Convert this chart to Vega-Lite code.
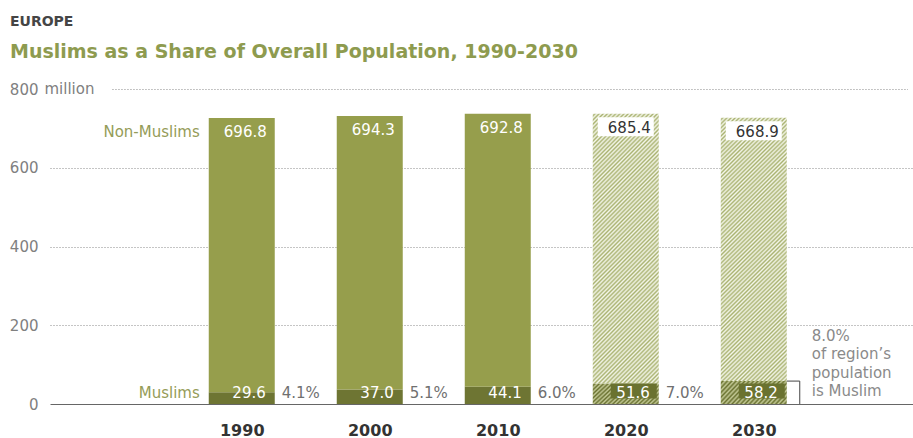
{
  "$schema": "https://vega.github.io/schema/vega-lite/v6.json",
  "width": 863,
  "height": 315,
  "autosize": {"type": "none"},
  "padding": {"left": 50, "top": 89, "right": 0, "bottom": 34},
  "background": "white",
  "config": {"view": {"stroke": null}, "font": "DejaVu Sans", "text": {"font": "DejaVu Sans"}},
  "title": {
    "text": "EUROPE",
    "subtitle": "Muslims as a Share of Overall Population, 1990-2030",
    "anchor": "start",
    "frame": "group",
    "dx": -40,
    "offset": 20,
    "font": "DejaVu Sans",
    "fontSize": 14,
    "fontWeight": "bold",
    "color": "#454545",
    "subtitleFont": "DejaVu Sans",
    "subtitleFontSize": 19,
    "subtitleFontWeight": "bold",
    "subtitleColor": "#8e9b4f",
    "subtitlePadding": 14
  },
  "layer": [
    {
      "data": {"values": [
        {"year": 1990, "group": "Muslims", "value": 29.6, "pct": "4.1%"},
        {"year": 1990, "group": "Non-Muslims", "value": 696.8},
        {"year": 2000, "group": "Muslims", "value": 37.0, "pct": "5.1%"},
        {"year": 2000, "group": "Non-Muslims", "value": 694.3},
        {"year": 2010, "group": "Muslims", "value": 44.1, "pct": "6.0%"},
        {"year": 2010, "group": "Non-Muslims", "value": 692.8},
        {"year": 2020, "group": "Muslims", "value": 51.6, "pct": "7.0%"},
        {"year": 2020, "group": "Non-Muslims", "value": 685.4},
        {"year": 2030, "group": "Muslims", "value": 58.2, "pct": "8.0%"},
        {"year": 2030, "group": "Non-Muslims", "value": 668.9}
      ]},
      "transform": [
        {"stack": "value", "groupby": ["year"], "sort": [{"field": "group", "order": "ascending"}], "as": ["y0", "y1"]}
      ],
      "layer": [
        {
          "transform": [{"filter": "datum.year <= 2010"}],
          "mark": {"type": "bar", "width": 66},
          "encoding": {
            "x": {
              "field": "year", "type": "quantitative", "title": null,
              "scale": {"domain": [1975.41, 2042.05], "nice": false, "zero": false},
              "axis": {
                "values": [1990, 2000, 2010, 2020, 2030], "format": "d",
                "ticks": false, "tickSize": 0, "grid": false,
                "domain": true, "domainColor": "#666666", "domainWidth": 1,
                "labelFont": "DejaVu Sans", "labelFontWeight": "bold", "labelFontSize": 16,
                "labelColor": "#333333", "labelPadding": 31, "labelBaseline": "alphabetic",
                "labelFlush": false, "labelOverlap": false, "title": null
              }
            },
            "y": {
              "field": "y0", "type": "quantitative", "title": null,
              "scale": {"domain": [0, 800], "nice": false},
              "axis": {
                "values": [0, 200, 400, 600, 800],
                "ticks": false, "tickSize": 0, "domain": false,
                "grid": true, "gridDash": [1, 2], "gridColor": "#8a8a8a", "gridWidth": 1,
                "gridOpacity": {"condition": {"test": "datum.value == 800 || datum.value == 0", "value": 0}, "value": 1},
                "labelAlign": "right", "labelPadding": 12, "labelFontSize": 15,
                "labelFont": "DejaVu Sans", "labelColor": "#808080", "labelBaseline": "middle",
                "labelFlush": false, "labelOverlap": false,
                "title": null
              }
            },
            "y2": {"field": "y1"},
            "color": {
              "field": "group", "type": "nominal", "legend": null,
              "scale": {"domain": ["Muslims", "Non-Muslims"], "range": ["#6e7533", "#969e4c"]}
            }
          }
        },
        {
          "transform": [{"filter": "datum.year >= 2020 && datum.group == 'Non-Muslims'"}],
          "mark": {
            "type": "bar", "width": 66,
            "fill": {"gradient": "linear", "x1": 0, "y1": 0, "x2": 0.2906, "y2": 1.1755, "stops": [
              {"offset":0,"color":"#f4f6e9"},{"offset":0.00625,"color":"#aab372"},{"offset":0.0125,"color":"#f4f6e9"},{"offset":0.01875,"color":"#aab372"},{"offset":0.025,"color":"#f4f6e9"},{"offset":0.03125,"color":"#aab372"},{"offset":0.0375,"color":"#f4f6e9"},{"offset":0.04375,"color":"#aab372"},
              {"offset":0.05,"color":"#f4f6e9"},{"offset":0.05625,"color":"#aab372"},{"offset":0.0625,"color":"#f4f6e9"},{"offset":0.06875,"color":"#aab372"},{"offset":0.075,"color":"#f4f6e9"},{"offset":0.08125,"color":"#aab372"},{"offset":0.0875,"color":"#f4f6e9"},{"offset":0.09375,"color":"#aab372"},
              {"offset":0.1,"color":"#f4f6e9"},{"offset":0.10625,"color":"#aab372"},{"offset":0.1125,"color":"#f4f6e9"},{"offset":0.11875,"color":"#aab372"},{"offset":0.125,"color":"#f4f6e9"},{"offset":0.13125,"color":"#aab372"},{"offset":0.1375,"color":"#f4f6e9"},{"offset":0.14375,"color":"#aab372"},
              {"offset":0.15,"color":"#f4f6e9"},{"offset":0.15625,"color":"#aab372"},{"offset":0.1625,"color":"#f4f6e9"},{"offset":0.16875,"color":"#aab372"},{"offset":0.175,"color":"#f4f6e9"},{"offset":0.18125,"color":"#aab372"},{"offset":0.1875,"color":"#f4f6e9"},{"offset":0.19375,"color":"#aab372"},
              {"offset":0.2,"color":"#f4f6e9"},{"offset":0.20625,"color":"#aab372"},{"offset":0.2125,"color":"#f4f6e9"},{"offset":0.21875,"color":"#aab372"},{"offset":0.225,"color":"#f4f6e9"},{"offset":0.23125,"color":"#aab372"},{"offset":0.2375,"color":"#f4f6e9"},{"offset":0.24375,"color":"#aab372"},
              {"offset":0.25,"color":"#f4f6e9"},{"offset":0.25625,"color":"#aab372"},{"offset":0.2625,"color":"#f4f6e9"},{"offset":0.26875,"color":"#aab372"},{"offset":0.275,"color":"#f4f6e9"},{"offset":0.28125,"color":"#aab372"},{"offset":0.2875,"color":"#f4f6e9"},{"offset":0.29375,"color":"#aab372"},
              {"offset":0.3,"color":"#f4f6e9"},{"offset":0.30625,"color":"#aab372"},{"offset":0.3125,"color":"#f4f6e9"},{"offset":0.31875,"color":"#aab372"},{"offset":0.325,"color":"#f4f6e9"},{"offset":0.33125,"color":"#aab372"},{"offset":0.3375,"color":"#f4f6e9"},{"offset":0.34375,"color":"#aab372"},
              {"offset":0.35,"color":"#f4f6e9"},{"offset":0.35625,"color":"#aab372"},{"offset":0.3625,"color":"#f4f6e9"},{"offset":0.36875,"color":"#aab372"},{"offset":0.375,"color":"#f4f6e9"},{"offset":0.38125,"color":"#aab372"},{"offset":0.3875,"color":"#f4f6e9"},{"offset":0.39375,"color":"#aab372"},
              {"offset":0.4,"color":"#f4f6e9"},{"offset":0.40625,"color":"#aab372"},{"offset":0.4125,"color":"#f4f6e9"},{"offset":0.41875,"color":"#aab372"},{"offset":0.425,"color":"#f4f6e9"},{"offset":0.43125,"color":"#aab372"},{"offset":0.4375,"color":"#f4f6e9"},{"offset":0.44375,"color":"#aab372"},
              {"offset":0.45,"color":"#f4f6e9"},{"offset":0.45625,"color":"#aab372"},{"offset":0.4625,"color":"#f4f6e9"},{"offset":0.46875,"color":"#aab372"},{"offset":0.475,"color":"#f4f6e9"},{"offset":0.48125,"color":"#aab372"},{"offset":0.4875,"color":"#f4f6e9"},{"offset":0.49375,"color":"#aab372"},
              {"offset":0.5,"color":"#f4f6e9"},{"offset":0.50625,"color":"#aab372"},{"offset":0.5125,"color":"#f4f6e9"},{"offset":0.51875,"color":"#aab372"},{"offset":0.525,"color":"#f4f6e9"},{"offset":0.53125,"color":"#aab372"},{"offset":0.5375,"color":"#f4f6e9"},{"offset":0.54375,"color":"#aab372"},
              {"offset":0.55,"color":"#f4f6e9"},{"offset":0.55625,"color":"#aab372"},{"offset":0.5625,"color":"#f4f6e9"},{"offset":0.56875,"color":"#aab372"},{"offset":0.575,"color":"#f4f6e9"},{"offset":0.58125,"color":"#aab372"},{"offset":0.5875,"color":"#f4f6e9"},{"offset":0.59375,"color":"#aab372"},
              {"offset":0.6,"color":"#f4f6e9"},{"offset":0.60625,"color":"#aab372"},{"offset":0.6125,"color":"#f4f6e9"},{"offset":0.61875,"color":"#aab372"},{"offset":0.625,"color":"#f4f6e9"},{"offset":0.63125,"color":"#aab372"},{"offset":0.6375,"color":"#f4f6e9"},{"offset":0.64375,"color":"#aab372"},
              {"offset":0.65,"color":"#f4f6e9"},{"offset":0.65625,"color":"#aab372"},{"offset":0.6625,"color":"#f4f6e9"},{"offset":0.66875,"color":"#aab372"},{"offset":0.675,"color":"#f4f6e9"},{"offset":0.68125,"color":"#aab372"},{"offset":0.6875,"color":"#f4f6e9"},{"offset":0.69375,"color":"#aab372"},
              {"offset":0.7,"color":"#f4f6e9"},{"offset":0.70625,"color":"#aab372"},{"offset":0.7125,"color":"#f4f6e9"},{"offset":0.71875,"color":"#aab372"},{"offset":0.725,"color":"#f4f6e9"},{"offset":0.73125,"color":"#aab372"},{"offset":0.7375,"color":"#f4f6e9"},{"offset":0.74375,"color":"#aab372"},
              {"offset":0.75,"color":"#f4f6e9"},{"offset":0.75625,"color":"#aab372"},{"offset":0.7625,"color":"#f4f6e9"},{"offset":0.76875,"color":"#aab372"},{"offset":0.775,"color":"#f4f6e9"},{"offset":0.78125,"color":"#aab372"},{"offset":0.7875,"color":"#f4f6e9"},{"offset":0.79375,"color":"#aab372"},
              {"offset":0.8,"color":"#f4f6e9"},{"offset":0.80625,"color":"#aab372"},{"offset":0.8125,"color":"#f4f6e9"},{"offset":0.81875,"color":"#aab372"},{"offset":0.825,"color":"#f4f6e9"},{"offset":0.83125,"color":"#aab372"},{"offset":0.8375,"color":"#f4f6e9"},{"offset":0.84375,"color":"#aab372"},
              {"offset":0.85,"color":"#f4f6e9"},{"offset":0.85625,"color":"#aab372"},{"offset":0.8625,"color":"#f4f6e9"},{"offset":0.86875,"color":"#aab372"},{"offset":0.875,"color":"#f4f6e9"},{"offset":0.88125,"color":"#aab372"},{"offset":0.8875,"color":"#f4f6e9"},{"offset":0.89375,"color":"#aab372"},
              {"offset":0.9,"color":"#f4f6e9"},{"offset":0.90625,"color":"#aab372"},{"offset":0.9125,"color":"#f4f6e9"},{"offset":0.91875,"color":"#aab372"},{"offset":0.925,"color":"#f4f6e9"},{"offset":0.93125,"color":"#aab372"},{"offset":0.9375,"color":"#f4f6e9"},{"offset":0.94375,"color":"#aab372"},
              {"offset":0.95,"color":"#f4f6e9"},{"offset":0.95625,"color":"#aab372"},{"offset":0.9625,"color":"#f4f6e9"},{"offset":0.96875,"color":"#aab372"},{"offset":0.975,"color":"#f4f6e9"},{"offset":0.98125,"color":"#aab372"},{"offset":0.9875,"color":"#f4f6e9"},{"offset":0.99375,"color":"#aab372"},
              {"offset":1,"color":"#f4f6e9"}
            ]}
          },
          "encoding": {
            "x": {"field": "year", "type": "quantitative"},
            "y": {"field": "y0", "type": "quantitative"},
            "y2": {"field": "y1"}
          }
        },
        {
          "transform": [{"filter": "datum.year >= 2020 && datum.group == 'Muslims'"}],
          "mark": {
            "type": "bar", "width": 66,
            "fill": {"gradient": "linear", "x1": 0, "y1": 0, "x2": 1.199, "y2": 0.392, "stops": [
              {"offset":0,"color":"#c3c996"},{"offset":0.025,"color":"#6a7230"},{"offset":0.05,"color":"#c3c996"},{"offset":0.075,"color":"#6a7230"},{"offset":0.1,"color":"#c3c996"},{"offset":0.125,"color":"#6a7230"},{"offset":0.15,"color":"#c3c996"},{"offset":0.175,"color":"#6a7230"},
              {"offset":0.2,"color":"#c3c996"},{"offset":0.225,"color":"#6a7230"},{"offset":0.25,"color":"#c3c996"},{"offset":0.275,"color":"#6a7230"},{"offset":0.3,"color":"#c3c996"},{"offset":0.325,"color":"#6a7230"},{"offset":0.35,"color":"#c3c996"},{"offset":0.375,"color":"#6a7230"},
              {"offset":0.4,"color":"#c3c996"},{"offset":0.425,"color":"#6a7230"},{"offset":0.45,"color":"#c3c996"},{"offset":0.475,"color":"#6a7230"},{"offset":0.5,"color":"#c3c996"},{"offset":0.525,"color":"#6a7230"},{"offset":0.55,"color":"#c3c996"},{"offset":0.575,"color":"#6a7230"},
              {"offset":0.6,"color":"#c3c996"},{"offset":0.625,"color":"#6a7230"},{"offset":0.65,"color":"#c3c996"},{"offset":0.675,"color":"#6a7230"},{"offset":0.7,"color":"#c3c996"},{"offset":0.725,"color":"#6a7230"},{"offset":0.75,"color":"#c3c996"},{"offset":0.775,"color":"#6a7230"},
              {"offset":0.8,"color":"#c3c996"},{"offset":0.825,"color":"#6a7230"},{"offset":0.85,"color":"#c3c996"},{"offset":0.875,"color":"#6a7230"},{"offset":0.9,"color":"#c3c996"},{"offset":0.925,"color":"#6a7230"},{"offset":0.95,"color":"#c3c996"},{"offset":0.975,"color":"#6a7230"},
              {"offset":1,"color":"#c3c996"}
            ]}
          },
          "encoding": {
            "x": {"field": "year", "type": "quantitative"},
            "y": {"field": "y0", "type": "quantitative"},
            "y2": {"field": "y1"}
          }
        },
        {
          "transform": [{"filter": "datum.year >= 2020 && datum.group == 'Non-Muslims'"}],
          "mark": {"type": "point", "shape": "M-1,-0.34H1V0.34H-1Z", "size": 3136, "filled": true, "fill": "#ffffff", "opacity": 1, "strokeWidth": 0, "yOffset": 13},
          "encoding": {
            "x": {"field": "year", "type": "quantitative"},
            "y": {"field": "y1", "type": "quantitative"}
          }
        },
        {
          "transform": [{"filter": "datum.year >= 2020 && datum.group == 'Muslims'"}],
          "mark": {"type": "point", "shape": "M-1,-0.33H1V0.33H-1Z", "size": 2116, "filled": true, "fill": "#6a7230", "opacity": 1, "strokeWidth": 0, "xOffset": 8, "yOffset": -13},
          "encoding": {
            "x": {"field": "year", "type": "quantitative"},
            "y": {"field": "y0", "type": "quantitative"}
          }
        },
        {
          "transform": [{"filter": "datum.group == 'Non-Muslims'"}],
          "mark": {"type": "text", "align": "right", "baseline": "alphabetic", "dx": 25, "dy": 19, "fontSize": 15},
          "encoding": {
            "x": {"field": "year", "type": "quantitative"},
            "y": {"field": "y1", "type": "quantitative"},
            "text": {"field": "value", "type": "quantitative", "format": ".1f"},
            "color": {"condition": {"test": "datum.year >= 2020", "value": "#333333"}, "value": "#ffffff"}
          }
        },
        {
          "transform": [{"filter": "datum.group == 'Muslims'"}],
          "mark": {"type": "text", "align": "right", "baseline": "alphabetic", "dx": 24, "dy": -6, "fontSize": 15, "color": "#ffffff"},
          "encoding": {
            "x": {"field": "year", "type": "quantitative"},
            "y": {"field": "y0", "type": "quantitative"},
            "text": {"field": "value", "type": "quantitative", "format": ".1f"}
          }
        },
        {
          "transform": [{"filter": "datum.group == 'Muslims' && datum.year <= 2020"}],
          "mark": {"type": "text", "align": "left", "baseline": "alphabetic", "dx": 40, "dy": -6, "fontSize": 15, "color": "#707070"},
          "encoding": {
            "x": {"field": "year", "type": "quantitative"},
            "y": {"field": "y0", "type": "quantitative"},
            "text": {"field": "pct", "type": "nominal"}
          }
        },
        {
          "transform": [{"filter": "datum.year == 1990 && datum.group == 'Non-Muslims'"}],
          "mark": {"type": "text", "align": "right", "baseline": "alphabetic", "dx": -42, "dy": 19, "fontSize": 15, "color": "#959c58"},
          "encoding": {
            "x": {"field": "year", "type": "quantitative"},
            "y": {"field": "y1", "type": "quantitative"},
            "text": {"field": "group", "type": "nominal"}
          }
        },
        {
          "transform": [{"filter": "datum.year == 1990 && datum.group == 'Muslims'"}],
          "mark": {"type": "text", "align": "right", "baseline": "alphabetic", "dx": -42, "dy": -6, "fontSize": 15, "color": "#959c58"},
          "encoding": {
            "x": {"field": "year", "type": "quantitative"},
            "y": {"field": "y0", "type": "quantitative"},
            "text": {"field": "group", "type": "nominal"}
          }
        },
        {
          "transform": [{"filter": "datum.year == 2030 && datum.group == 'Muslims'"}],
          "mark": {"type": "rule", "color": "#444444", "strokeWidth": 1, "xOffset": 33, "x2Offset": 46},
          "encoding": {
            "x": {"field": "year", "type": "quantitative"},
            "x2": {"field": "year"},
            "y": {"field": "y1", "type": "quantitative"}
          }
        },
        {
          "transform": [{"filter": "datum.year == 2030 && datum.group == 'Muslims'"}],
          "mark": {"type": "rule", "color": "#444444", "strokeWidth": 1, "xOffset": 46},
          "encoding": {
            "x": {"field": "year", "type": "quantitative"},
            "y": {"field": "y1", "type": "quantitative"},
            "y2": {"field": "y0"}
          }
        }
      ]
    },
    {
      "data": {"values": [{"year": 2030, "note": "8.0%\nof region’s\npopulation\nis Muslim"}]},
      "mark": {"type": "text", "align": "left", "baseline": "alphabetic", "dx": 58, "dy": -63, "fontSize": 15, "lineBreak": "\n", "lineHeight": 18.3, "color": "#8a8a8a"},
      "encoding": {
        "x": {"field": "year", "type": "quantitative"},
        "y": {"datum": 0},
        "text": {"field": "note", "type": "nominal"}
      }
    },
    {
      "data": {"values": [{"level": 800, "start": 1979.9, "end": 2042.05, "unit": "million"}]},
      "layer": [
        {
          "mark": {"type": "rule", "color": "#8a8a8a", "strokeDash": [1, 2], "strokeWidth": 1, "yOffset": 0.5},
          "encoding": {
            "y": {"field": "level", "type": "quantitative"},
            "x": {"field": "start", "type": "quantitative"},
            "x2": {"field": "end"}
          }
        },
        {
          "mark": {"type": "text", "align": "right", "baseline": "middle", "dx": -18, "fontSize": 15, "color": "#808080"},
          "encoding": {
            "y": {"field": "level", "type": "quantitative"},
            "x": {"field": "start", "type": "quantitative"},
            "text": {"field": "unit", "type": "nominal"}
          }
        }
      ]
    }
  ]
}
